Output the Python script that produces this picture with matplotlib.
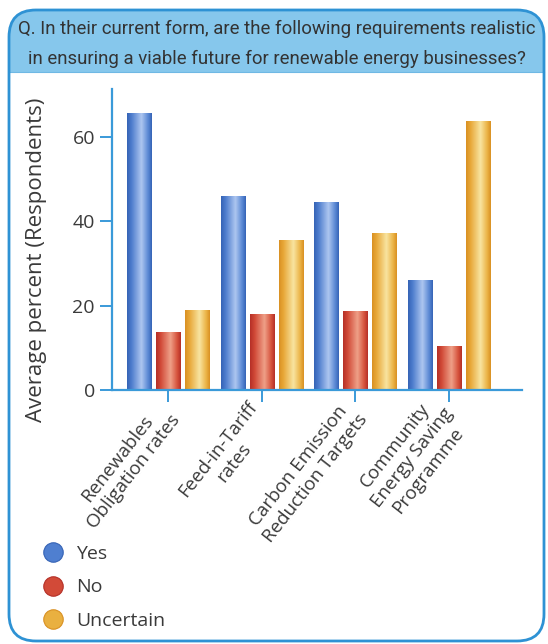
import numpy as np
import matplotlib
matplotlib.use("Agg")
import matplotlib.pyplot as plt
from matplotlib.colors import LinearSegmentedColormap
from matplotlib.patches import FancyBboxPatch, Rectangle
from matplotlib.lines import Line2D

# ---- data -------------------------------------------------------------
categories = [
    "Renewables\nObligation rates",
    "Feed-in-Tariff\nrates",
    "Carbon Emission\nReduction Targets",
    "Community\nEnergy Saving\nProgramme",
]
series_names = ["Yes", "No", "Uncertain"]
yes = [65.5, 46.0, 44.5, 26.0]
no = [13.7, 17.9, 18.8, 10.5]
uncertain = [18.9, 35.6, 37.2, 63.8]
y_ticks = [0, 20, 40, 60]
question = ("Q. In their current form, are the following requirements realistic\n"
            "in ensuring a viable future for renewable energy businesses?")
y_label = "Average percent (Respondents)"

# ---- styling ----------------------------------------------------------
W, H = 548, 644
BODY_FONT = ["Open Sans", "DejaVu Sans"]
HEAD_FONT = ["Roboto", "DejaVu Sans"]
AXIS_BLUE = "#3a9ad9"
TEXT = "#3a3a3a"

shade_maps = {
    "Yes": LinearSegmentedColormap.from_list(
        "yes", [(0, "#3563b5"), (0.18, "#4d7ccd"), (0.58, "#adc6f0"),
                (0.85, "#5a88d4"), (1, "#3563b5")]),
    "No": LinearSegmentedColormap.from_list(
        "no", [(0, "#b42f27"), (0.18, "#d04836"), (0.58, "#efa088"),
               (0.85, "#d6533d"), (1, "#b42f27")]),
    "Uncertain": LinearSegmentedColormap.from_list(
        "unc", [(0, "#d99022"), (0.18, "#e8a838"), (0.58, "#f8e4a0"),
                (0.85, "#ebb346"), (1, "#d99022")]),
}
flat_colors = {"Yes": "#4f7fd0", "No": "#d24a38", "Uncertain": "#e9b040"}

fig = plt.figure(figsize=(W / 100, H / 100), dpi=100)
fig.patch.set_facecolor("white")


def px(v):
    return v / 100.0


# rounded card with a light-blue header band
card_xy = (px(9), px(H - 641))
card_wh = (px(535), px(631))
card = FancyBboxPatch(card_xy, *card_wh,
                      boxstyle="round,pad=0,rounding_size=0.27",
                      transform=fig.dpi_scale_trans,
                      facecolor="white", edgecolor="none", zorder=-3)
fig.patches.append(card)
band = Rectangle((0, px(H - 72)), px(W), px(72),
                 transform=fig.dpi_scale_trans,
                 facecolor="#86c7ec", edgecolor="none", zorder=-2)
band.set_clip_path(card)
fig.patches.append(band)
band_edge = Line2D([px(9), px(544)], [px(H - 72), px(H - 72)],
                   transform=fig.dpi_scale_trans, color="#6fb8e4", lw=0.8,
                   zorder=-1)
fig.lines.append(band_edge)
outline = FancyBboxPatch(card_xy, *card_wh,
                         boxstyle="round,pad=0,rounding_size=0.27",
                         transform=fig.dpi_scale_trans,
                         facecolor="none", edgecolor="#2e92d4", lw=2.0,
                         zorder=5)
fig.patches.append(outline)

fig.text(277 / W, 1 - 44 / H, question, ha="center", va="center",
         fontsize=13.4, color="#333333", family=HEAD_FONT, linespacing=1.8)

# ---- bar chart --------------------------------------------------------
ax = fig.add_axes([112.3 / W, 1 - 390 / H, 409.4 / W, 300.7 / H])
ax.patch.set_alpha(0)

x = np.arange(len(categories))
step = 0.31
width = 0.26
grad = np.linspace(0, 1, 256).reshape(1, -1)

for i, (name, vals) in enumerate(zip(series_names, [yes, no, uncertain])):
    bars = ax.bar(x + (i - 1) * step, vals, width=width,
                  color=flat_colors[name], edgecolor="none", zorder=2)
    for b in bars:
        x0, w, h = b.get_x(), b.get_width(), b.get_height()
        im = ax.imshow(grad, cmap=shade_maps[name], aspect="auto",
                       extent=(x0, x0 + w, 0, h), interpolation="bilinear",
                       zorder=2.1)
        im.set_clip_path(b)

ax.set_xlim(-0.598, 3.776)
ax.set_ylim(0, 71.2)

for s in ("top", "right"):
    ax.spines[s].set_visible(False)
for s in ("left", "bottom"):
    ax.spines[s].set_color(AXIS_BLUE)
    ax.spines[s].set_linewidth(1.6)

ax.set_yticks(y_ticks)
ax.set_yticklabels([str(t) for t in y_ticks])
ax.set_xticks(x)
ax.set_xticklabels(categories, rotation=52, ha="right", va="center",
                   rotation_mode="anchor", multialignment="center")
ax.tick_params(axis="both", colors=AXIS_BLUE, length=8.5, width=1.4,
               direction="out")
ax.tick_params(axis="y", pad=4)
ax.tick_params(axis="x", pad=6)
for lab in ax.get_yticklabels():
    lab.set_color(TEXT)
    lab.set_family(BODY_FONT)
    lab.set_fontsize(14)
for lab in ax.get_xticklabels():
    lab.set_color(TEXT)
    lab.set_family(BODY_FONT)
    lab.set_fontsize(13.5)
    lab.set_linespacing(1.2)

ax.set_ylabel(y_label, fontsize=16, color=TEXT, family=BODY_FONT)
ax.yaxis.set_label_coords(-0.186, 0.433)
ax.yaxis.label.set_va("center")

# ---- legend -----------------------------------------------------------
handles = [Line2D([], [], ls="none", marker="o", markersize=14,
                  markerfacecolor=flat_colors[n],
                  markeredgecolor=shade_maps[n](0.0), markeredgewidth=0.8)
           for n in series_names]
leg = fig.legend(handles, series_names, loc="upper left",
                 bbox_to_anchor=(43.3 / W, 1 - 545 / H), frameon=False,
                 borderpad=0, borderaxespad=0, handlelength=1.0,
                 handletextpad=0.7, labelspacing=0.79,
                 prop={"family": BODY_FONT, "size": 14})
for t in leg.get_texts():
    t.set_color(TEXT)

fig.savefig("out.png", dpi=100, facecolor="white")
